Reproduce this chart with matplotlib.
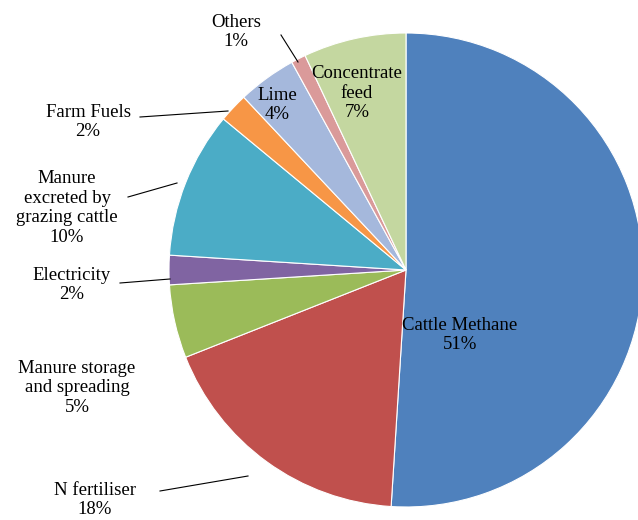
import matplotlib
matplotlib.use("Agg")
import matplotlib.pyplot as plt

plt.rcParams["font.family"] = ["Liberation Serif", "DejaVu Serif"]

labels = ["Cattle Methane", "N fertiliser", "Manure storage\nand spreading", "Electricity",
          "Manure\nexcreted by\ngrazing cattle", "Farm Fuels", "Lime", "Others", "Concentrate\nfeed"]
values = [51, 18, 5, 2, 10, 2, 4, 1, 7]
colors = ["#4F81BD", "#C0504D", "#9BBB59", "#8064A2", "#4BACC6", "#F79646",
          "#A5B8DC", "#DA9A9A", "#C4D7A0"]

W, H = 638, 520
cx, cy, R = 406, 270, 237
fig = plt.figure(figsize=(W / 100, H / 100), dpi=100)
ax = fig.add_axes([(cx - R) / W, (H - cy - R) / H, 2 * R / W, 2 * R / H])
ax.pie(values, colors=colors, startangle=90, counterclock=False, radius=1,
       wedgeprops=dict(edgecolor="white", linewidth=0.8))
ax.set_xlim(-1, 1); ax.set_ylim(-1, 1); ax.set_aspect("equal"); ax.axis("off")

def d(px, py):
    return ((px - cx) / R, (cy - py) / R)

# (text pixel position, leader points in pixels or None)
placements = [
    ((460, 335), None),
    ((95, 500), [(160, 491), (248, 476)]),
    ((77, 388), None),
    ((72, 285), [(120, 283), (170, 279)]),
    ((67, 208), [(128, 197), (177, 183)]),
    ((88, 122), [(140, 117), (228, 111)]),
    ((277, 105), None),
    ((236, 32), [(281, 35), (298, 62)]),
    ((357, 93), None),
]
for lab, v, (tp, lead) in zip(labels, values, placements):
    x, y = d(*tp)
    ax.text(x, y, f"{lab}\n{v}%", ha="center", va="center", fontsize=13.5,
            linespacing=1.2, clip_on=False)
    if lead:
        xs, ys = zip(*[d(*p) for p in lead])
        ax.plot(xs, ys, color="black", lw=0.8, clip_on=False)

fig.savefig("out.png", dpi=100)
